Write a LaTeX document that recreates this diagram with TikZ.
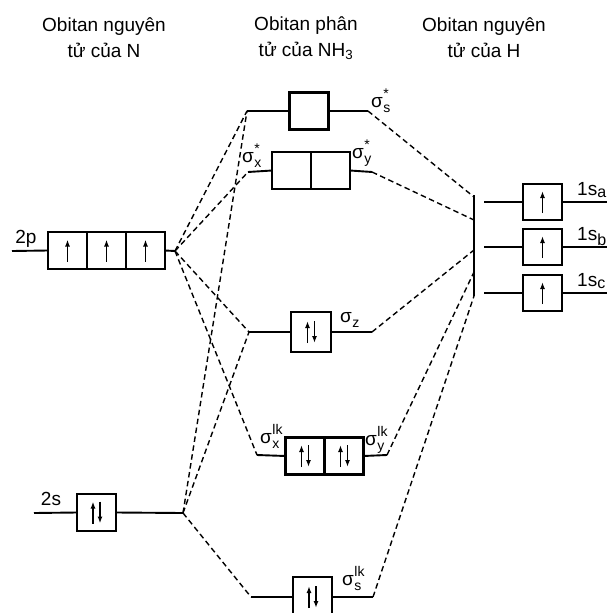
\documentclass[tikz,border=0pt]{standalone}
\usepackage{fontspec}
\setmainfont{Liberation Sans}
\usetikzlibrary{arrows.meta,positioning}

\newcommand{\nho}[1]{{\fontsize{14}{14}\selectfont #1}}
\newcommand{\sg}[2]{σ\kern0.5pt\rlap{\raisebox{-5pt}{\nho{#1}}}\raisebox{8.5pt}{\nho{#2}}}
\newcommand{\eup}[1]{\draw[el] ([yshift=-11pt]#1.center) -- ([yshift=11pt]#1.center);}
\newcommand{\epair}[1]{%
  \draw[el] ([xshift=-3.5pt,yshift=-11pt]#1.center) -- ([xshift=-3.5pt,yshift=11pt]#1.center);
  \draw[el] ([xshift=3.5pt,yshift=11pt]#1.center) -- ([xshift=3.5pt,yshift=-11pt]#1.center);}

\begin{document}
\begin{tikzpicture}[x=1pt, y=-1pt,
        lvl/.style={line width=1.9pt},
        orb/.style={draw, line width=2.4pt, fill=white, minimum width=39pt, minimum height=37pt, inner sep=0pt, outer sep=0pt},
        lien/.style={line width=1.4pt, dash pattern=on 5.5pt off 3.5pt},
        el/.style={-{Latex[length=7pt,width=5pt]}, line width=1.9pt},
        nhan/.style={font=\fontsize{19}{19}\selectfont, inner sep=0pt},
        tieude/.style={align=center, font=\fontsize{19}{26}\selectfont, inner sep=0pt}
    ]
        \useasboundingbox (0,0) rectangle (610,613);

        \node[tieude] (tN) at (104,38) {Obitan nguyên\\tử của N};
        \node[tieude] (tM) at (306,38) {Obitan phân\\tử của NH\textsubscript{3}};
        \node[tieude] (tH) at (484,38) {Obitan nguyên\\tử của H};

        % N
        \coordinate (pL) at (12,251);
        \coordinate (pJ) at (175,251);
        \node[orb] (p1) at (67.5,250.5) {};
        \node[orb, right=0pt of p1] (p2) {};
        \node[orb, right=0pt of p2] (p3) {};
        \draw[lvl] (pL) -- (p1.west);
        \draw[lvl] (p3.east) -- (pJ);
        \foreach \c in {p1,p2,p3} {\eup{\c}}
        \node[nhan] (l2p) at (26,239) {2p};

        \coordinate (sL) at (34,513);
        \coordinate (sJ) at (183,513);
        \node[orb] (s1) at (96.5,512.5) {};
        \draw[lvl] (sL) -- (s1.west);
        \draw[lvl] (s1.east) -- (sJ);
        \epair{s1}
        \node[nhan] (l2s) at (51,499) {2s};

        % NH3
        \coordinate (aL) at (247,111);
        \coordinate (aR) at (368,111);
        \node[orb] (a) at (309,111) {};
        \draw[lvl] (aL) -- (a.west) (a.east) -- (aR);
        \node[nhan, anchor=base west] (la) at (371,107) {\sg{s}{*}};

        \coordinate (bL) at (248,172);
        \coordinate (bR) at (372,172);
        \node[orb] (b1) at (291.5,170.5) {};
        \node[orb, right=0pt of b1] (b2) {};
        \draw[lvl] (bL) -- (b1.west) (b2.east) -- (bR);
        \node[nhan, anchor=base west] (lbx) at (242,162) {\sg{x}{*}};
        \node[nhan, anchor=base west] (lby) at (352,158) {\sg{y}{*}};

        \coordinate (cL) at (249,332);
        \coordinate (cR) at (372,332);
        \node[orb, minimum width=40pt, minimum height=40pt] (c) at (311,332) {};
        \draw[lvl] (cL) -- (c.west) (c.east) -- (cR);
        \epair{c}
        \node[nhan, anchor=base west] (lc) at (340,322) {\sg{z}{}};

        \coordinate (dL) at (257,455);
        \coordinate (dR) at (387,455);
        \node[orb] (d1) at (305,456) {};
        \node[orb, right=0pt of d1] (d2) {};
        \draw[lvl] (dL) -- (d1.west) (d2.east) -- (dR);
        \epair{d1}
        \epair{d2}
        \node[nhan, anchor=base west] (ldx) at (260,443) {\sg{x}{lk}};
        \node[nhan, anchor=base west] (ldy) at (365,445) {\sg{y}{lk}};

        \coordinate (eL) at (251,597);
        \coordinate (eR) at (373,597);
        \node[orb, minimum height=40pt] (e) at (312.5,597) {};
        \draw[lvl] (eL) -- (e.west) (e.east) -- (eR);
        \epair{e}
        \node[nhan, anchor=base west] (le) at (342,585) {\sg{s}{lk}};

        % H
        \coordinate (hT) at (474,195);
        \coordinate (hB) at (474,296);
        \draw[lvl] (hT) -- (hB);
        \coordinate (h1) at (474,197);
        \coordinate (h2) at (474,220);
        \coordinate (h3) at (474,250);
        \coordinate (h4) at (474,272);
        \coordinate (h5) at (474,296);
        \foreach \n/\y/\s in {ha/202/a, hb/247/b, hc/293/c} {
            \coordinate (\n L) at (484,\y);
            \coordinate (\n R) at (607,\y);
            \node[orb, minimum height=36pt] (\n) at (542.5,\y) {};
            \draw[lvl] (\n L) -- (\n.west) (\n.east) -- (\n R);
            \eup{\n}
            \node[nhan, anchor=base west] (l\n) at (577,\y-7) {1s\textsubscript{\fontsize{16}{16}\selectfont\s}};
        }

        % lien ket
        \draw[lien] (pJ) -- (aL);
        \draw[lien] (pJ) -- (bL);
        \draw[lien] (pJ) -- (cL);
        \draw[lien] (pJ) -- (dL);
        \draw[lien] (sJ) -- (aL);
        \draw[lien] (sJ) -- (cL);
        \draw[lien] (sJ) -- (eL);
        \draw[lien] (aR) -- (h1);
        \draw[lien] (bR) -- (h2);
        \draw[lien] (cR) -- (h3);
        \draw[lien] (dR) -- (h4);
        \draw[lien] (eR) -- (h5);
    \end{tikzpicture}
\end{document}
